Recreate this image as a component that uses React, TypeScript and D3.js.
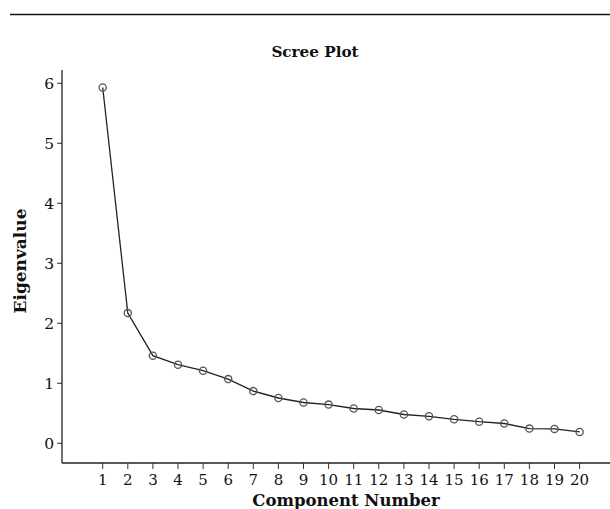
import React from "react";
import * as d3 from "d3";

const components: number[] = [1, 2, 3, 4, 5, 6, 7, 8, 9, 10, 11, 12, 13, 14, 15, 16, 17, 18, 19, 20];
const eigenvalues: number[] = [5.93, 2.17, 1.46, 1.31, 1.21, 1.07, 0.87, 0.755, 0.68, 0.645, 0.58, 0.555, 0.48, 0.45, 0.4, 0.36, 0.33, 0.245, 0.24, 0.19];
const yTicks: number[] = [0, 1, 2, 3, 4, 5, 6];

const title = "Scree Plot";
const xTitle = "Component Number";
const yTitle = "Eigenvalue";

export default function App() {
  const W = 610;
  const H = 509;
  const x = d3.scaleLinear().domain([1, 20]).range([102.7, 579.6]);
  const y = d3.scaleLinear().domain([0, 6]).range([443.3, 83.3]);
  const axisLeft = 62;
  const axisBottom = 463;
  const data = components.map((c, i) => ({ c, v: eigenvalues[i] }));
  const line = d3
    .line<{ c: number; v: number }>()
    .x((d) => x(d.c))
    .y((d) => y(d.v));
  const font = "'DejaVu Serif', serif";

  return (
    <svg
      width={W}
      height={H}
      style={{ position: "absolute", left: 0, top: 0, background: "#fff" }}
      fontFamily={font}
    >
      <line x1={10} x2={610} y1={14.5} y2={14.5} stroke="#111" strokeWidth={1.5} />
      <text x={315} y={57} textAnchor="middle" fontWeight="bold" fontSize={15.2} fill="#111">
        {title}
      </text>
      {/* y axis */}
      <line x1={axisLeft} x2={axisLeft} y1={70} y2={axisBottom} stroke="#222" strokeWidth={1.3} />
      {yTicks.map((t) => (
        <g key={t}>
          <line x1={axisLeft - 5} x2={axisLeft} y1={y(t)} y2={y(t)} stroke="#333" strokeWidth={1} />
          <text x={54} y={y(t)} dy="0.35em" textAnchor="end" fontSize={15.5} fill="#111">
            {t}
          </text>
        </g>
      ))}
      {/* x axis */}
      <line x1={axisLeft} x2={610} y1={axisBottom} y2={axisBottom} stroke="#222" strokeWidth={1.3} />
      {components.map((c) => (
        <g key={c}>
          <line x1={x(c)} x2={x(c)} y1={axisBottom} y2={axisBottom + 6} stroke="#333" strokeWidth={1} />
          <text x={x(c)} y={485} textAnchor="middle" fontSize={15} fill="#111">
            {c}
          </text>
        </g>
      ))}
      <text x={346} y={506} textAnchor="middle" fontWeight="bold" fontSize={16.5} fill="#111">
        {xTitle}
      </text>
      <text
        transform={`translate(26,261) rotate(-90)`}
        textAnchor="middle"
        fontWeight="bold"
        fontSize={17}
        fill="#111"
      >
        {yTitle}
      </text>
      <path d={line(data) ?? ""} fill="none" stroke="#222" strokeWidth={1.3} />
      {data.map((d) => (
        <circle key={d.c} cx={x(d.c)} cy={y(d.v)} r={3.6} fill="none" stroke="#555" strokeWidth={1.3} />
      ))}
    </svg>
  );
}
